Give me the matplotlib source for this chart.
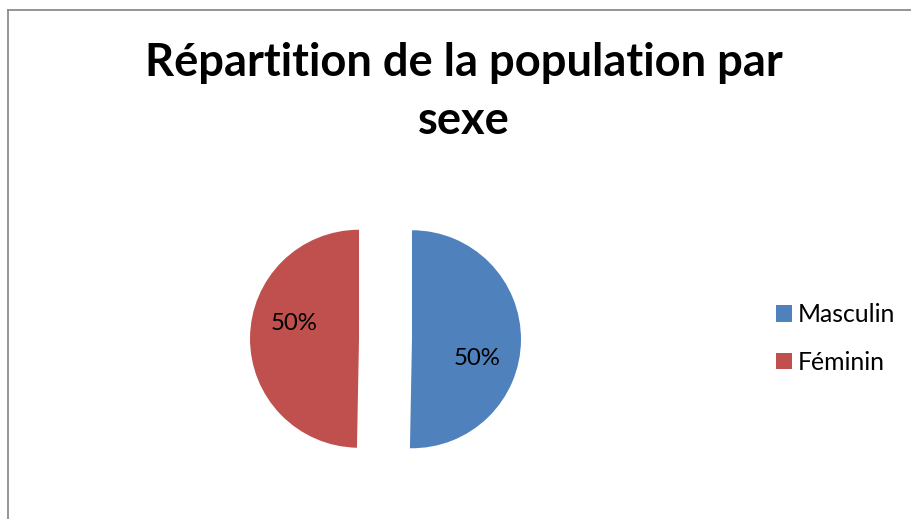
import matplotlib
matplotlib.use("Agg")
import matplotlib.pyplot as plt
from matplotlib.lines import Line2D

# ── Data ──────────────────────────────────────────────────────────────────────
categories = ["Masculin", "Féminin"]
values     = [50.3, 49.7]
colors     = ["#4F81BD", "#C0504D"]
title      = "Répartition de la population par\nsexe"

# ── Layout (pixels) ───────────────────────────────────────────────────────────
W, H   = 911, 519
CX, CY = 385.5, 339      # pie centre in image px (y down)
R      = 109             # radius in px
EXPLODE = 0.243
# label offsets from each wedge's own centre, in radius units
LABEL_OFF = [(0.596, -0.179), (-0.596, 0.142)]

plt.rcParams['font.family'] = ['Lato', 'DejaVu Sans']

fig = plt.figure(figsize=(W / 100, H / 100), dpi=100)
ax = fig.add_axes([0, 0, 1, 1])

wedges, texts, autotexts = ax.pie(values, colors=colors, startangle=90,
                                  counterclock=False,
                                  explode=[EXPLODE] * len(values),
                                  autopct="%1.0f%%",
                                  wedgeprops=dict(linewidth=0),
                                  textprops=dict(fontsize=17.3, color="black"))
for w, t, (dx, dy) in zip(wedges, autotexts, LABEL_OFF):
    cx, cy = w.center
    t.set_position((cx + dx, cy + dy))
    t.set_ha("center"); t.set_va("center")

ax.set_xlim(-CX / R, (W - CX) / R)
ax.set_ylim(-(H - CY) / R, CY / R)
ax.set_aspect("equal")
ax.axis("off")

fig.text(464 / W, 1 - 42 / H, title, ha="center", va="top",
         fontsize=32.6, fontweight="bold", linespacing=1.46)

fig.legend(wedges, categories, loc="center left",
           bbox_to_anchor=(764 / W, 1 - 338.5 / H), frameon=False,
           fontsize=17.8, handlelength=0.64, handleheight=0.64,
           handletextpad=0.22, labelspacing=1.0, borderpad=0)

# chart frame (top and left edges visible)
fig.add_artist(Line2D([8 / W, 1], [1 - 9.5 / H, 1 - 9.5 / H],
                      transform=fig.transFigure, color="#8c8c8c", lw=1.3))
fig.add_artist(Line2D([8 / W, 8 / W], [0, 1 - 9.5 / H],
                      transform=fig.transFigure, color="#8c8c8c", lw=1.3))

fig.savefig("out.png", dpi=100, facecolor="white")
